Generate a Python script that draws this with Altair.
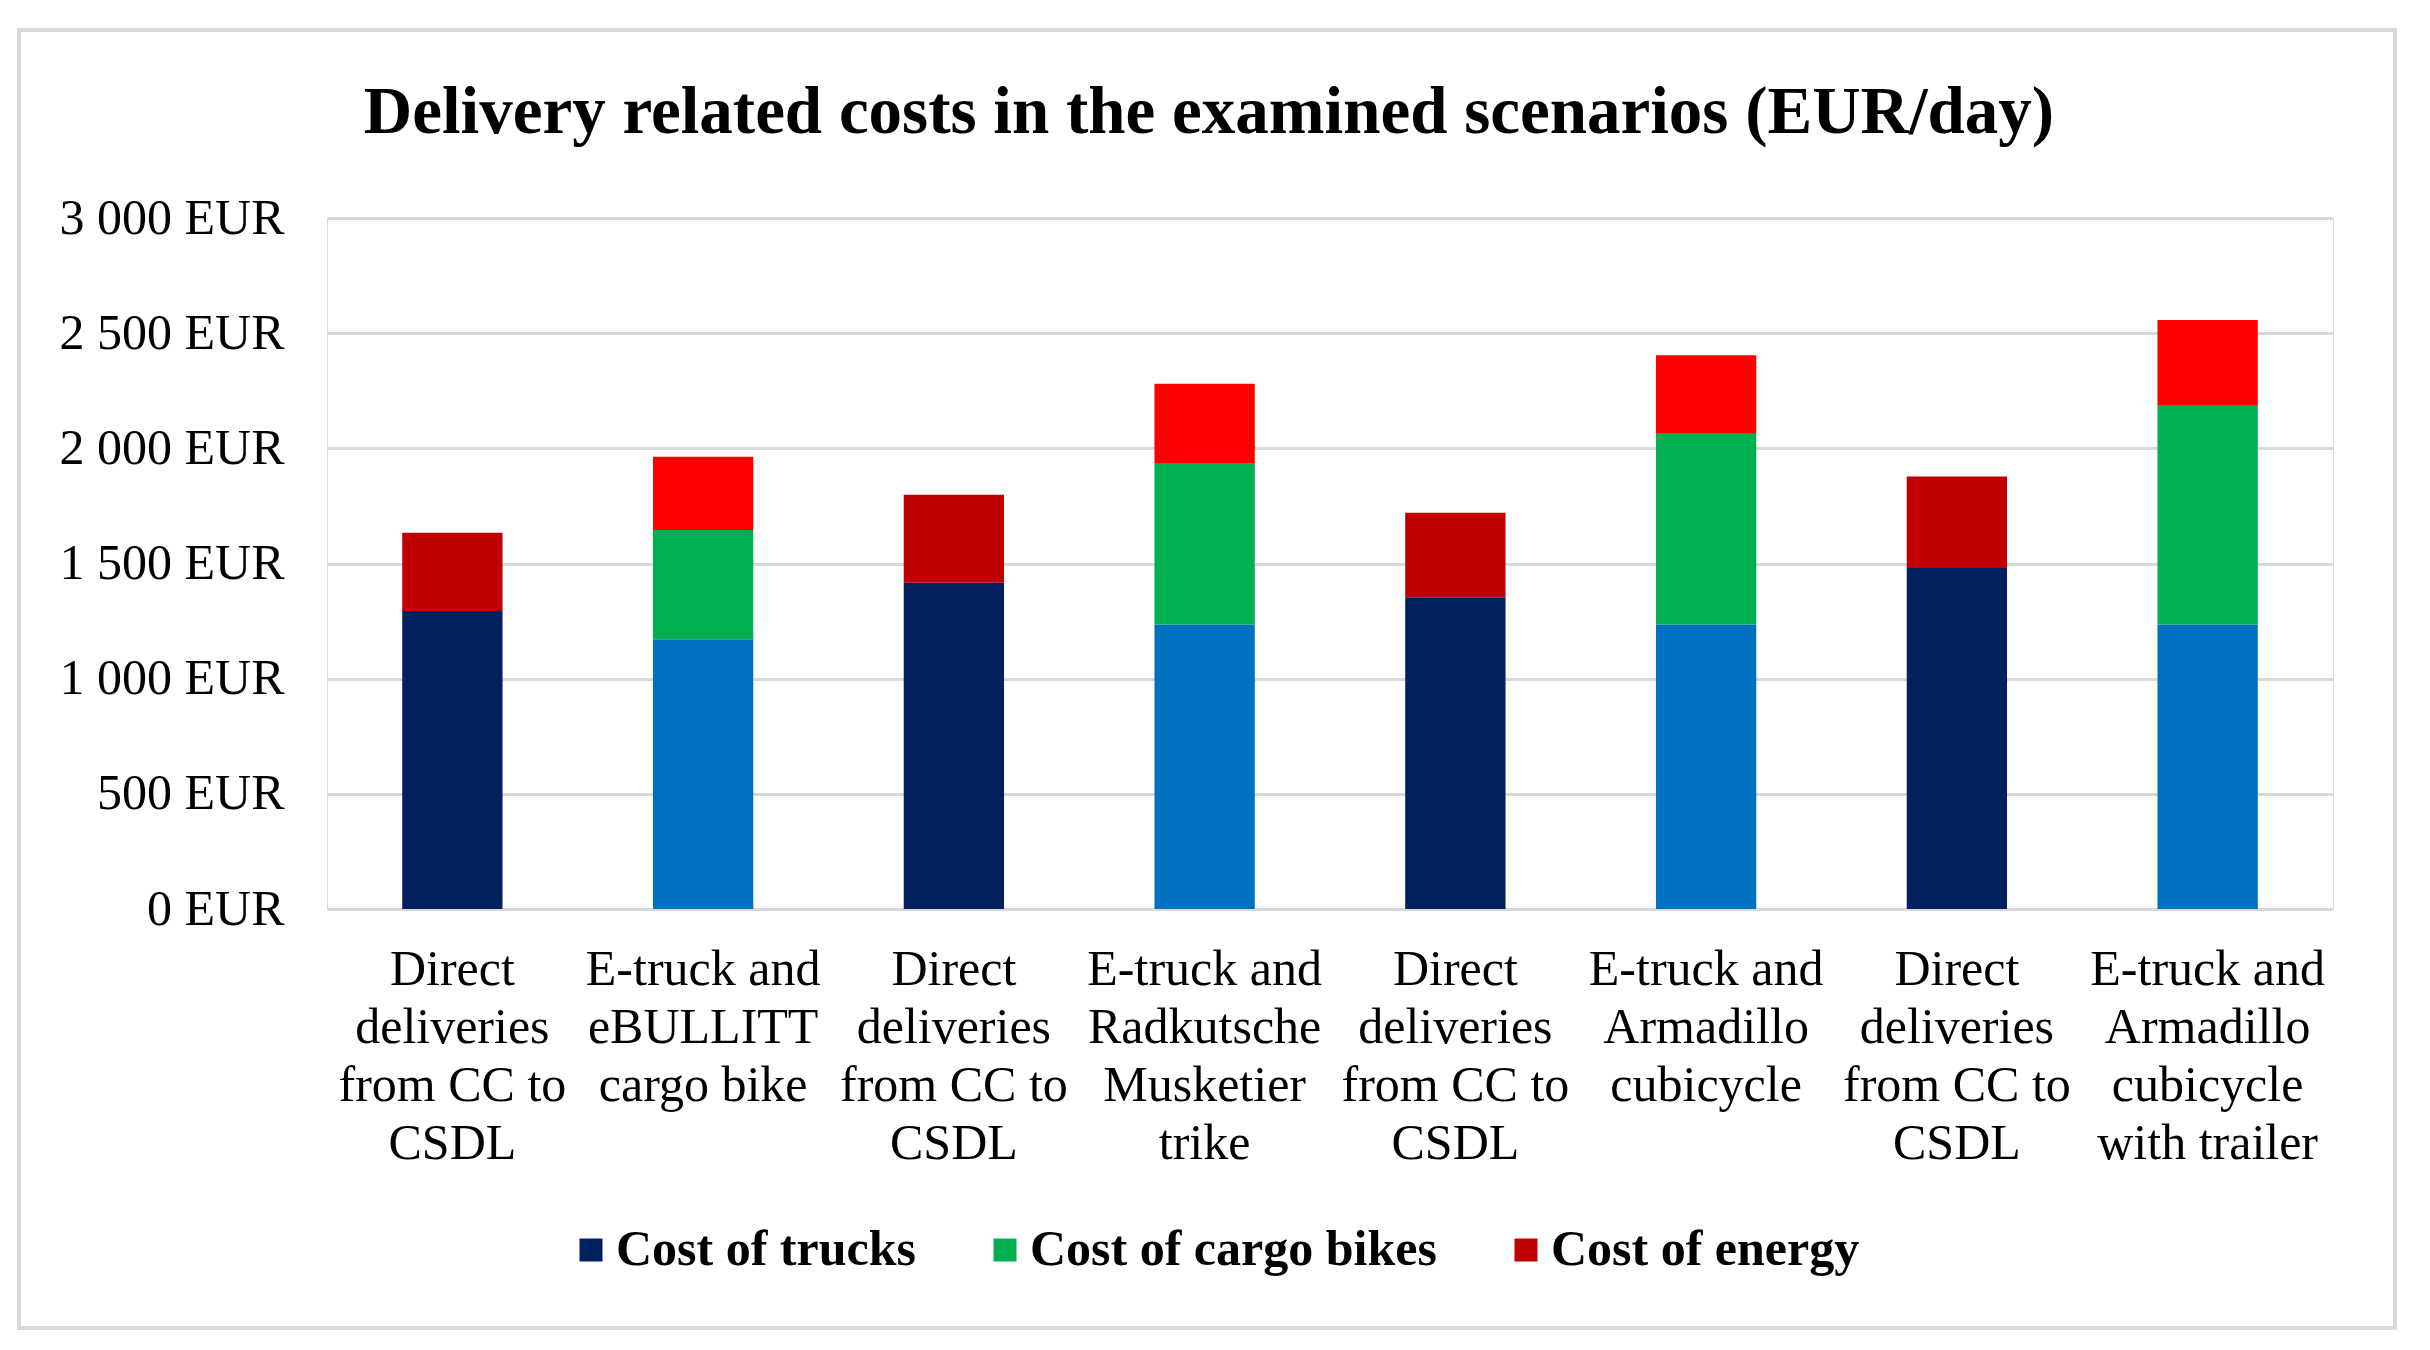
import json

import altair as alt
import pandas as pd

scenario_labels = [
    "Direct|deliveries|from CC to|CSDL",
    "E-truck and|eBULLITT|cargo bike",
    "Direct|deliveries|from CC to|CSDL",
    "E-truck and|Radkutsche|Musketier|trike",
    "Direct|deliveries|from CC to|CSDL",
    "E-truck and|Armadillo|cubicycle",
    "Direct|deliveries|from CC to|CSDL",
    "E-truck and|Armadillo|cubicycle|with trailer",
]
is_etruck = [False, True, False, True, False, True, False, True]
cost_trucks = [1294, 1171, 1416, 1235, 1354, 1235, 1481, 1235]
cost_bikes = [0, 474, 0, 701, 0, 828, 0, 950]
cost_energy = [340, 318, 382, 344, 366, 341, 397, 372]

shade_domain = ["Cost of trucks", "Cost of cargo bikes", "Cost of energy", "e-truck", "e-energy"]
shade_range = ["#002060", "#00B050", "#C00000", "#0070C0", "#FF0000"]

rows = []
for i in range(len(scenario_labels)):
    e = is_etruck[i]
    parts = [
        ("e-truck" if e else "Cost of trucks", cost_trucks[i], 0),
        ("Cost of cargo bikes", cost_bikes[i], 1),
        ("e-energy" if e else "Cost of energy", cost_energy[i], 2),
    ]
    for shade, val, order in parts:
        if val > 0:
            rows.append({"idx": i, "shade": shade, "value": val, "order": order})
df = pd.DataFrame(rows)

FONT = "Liberation Serif"
label_expr = f"split({json.dumps(scenario_labels)}[datum.value], '|')"

bars = (
    alt.Chart(df)
    .mark_bar()
    .encode(
        x=alt.X(
            "idx:O",
            title=None,
            scale=alt.Scale(paddingInner=0.6, paddingOuter=0.3),
            axis=alt.Axis(
                labelExpr=label_expr,
                labelAngle=0,
                labelFont=FONT,
                labelFontSize=50,
                labelLineHeight=58,
                labelColor="black",
                labelPadding=35,
                labelLimit=0,
                domain=False,
                ticks=False,
            ),
        ),
        y=alt.Y(
            "value:Q",
            title=None,
            stack="zero",
            scale=alt.Scale(domain=[0, 3000], nice=False),
            axis=alt.Axis(
                values=[0, 500, 1000, 1500, 2000, 2500, 3000],
                labelExpr="replace(format(datum.value, ','), ',', ' ') + ' EUR'",
                labelFont=FONT,
                labelFontSize=50,
                labelColor="black",
                labelPadding=43,
                labelLimit=0,
                gridColor="#d9d9d9",
                gridWidth=3,
                domain=False,
                ticks=False,
            ),
        ),
        color=alt.Color(
            "shade:N",
            scale=alt.Scale(domain=shade_domain, range=shade_range),
            legend=alt.Legend(
                title=None,
                values=shade_domain[:3],
                orient="none",
                legendX=239,
                legendY=1007,
                direction="horizontal",
                symbolType="square",
                symbolSize=529,
                symbolStrokeWidth=0,
                labelFont=FONT,
                labelFontWeight="bold",
                labelFontSize=50,
                labelColor="black",
                labelOffset=0,
                labelLimit=0,
                columnPadding=64,
                padding=0,
            ),
        ),
        order=alt.Order("order:Q", sort="ascending"),
    )
)

border = (
    alt.Chart(pd.DataFrame({"a": [0]}))
    .mark_rect(filled=False, stroke="#d9d9d9", strokeWidth=4)
    .encode(x=alt.value(-308), x2=alt.value(2068), y=alt.value(-188), y2=alt.value(1110))
)

chart = (
    alt.layer(border, bars)
    .properties(
        width=2006,
        height=691,
        autosize=alt.AutoSizeParams(type="none"),
        padding={"left": 319, "top": 210, "right": 82, "bottom": 430},
        title=alt.Title(
            "Delivery related costs in the examined scenarios (EUR/day)",
            font=FONT,
            fontSize=67,
            fontWeight="bold",
            color="black",
            anchor="middle",
            dx=-121,
            baseline="alphabetic",
            offset=-172,
        ),
    )
    .configure_view(strokeWidth=0)
    .configure(background="white")
)

chart.save("out.html", embed_options={"renderer": "svg", "actions": False})
